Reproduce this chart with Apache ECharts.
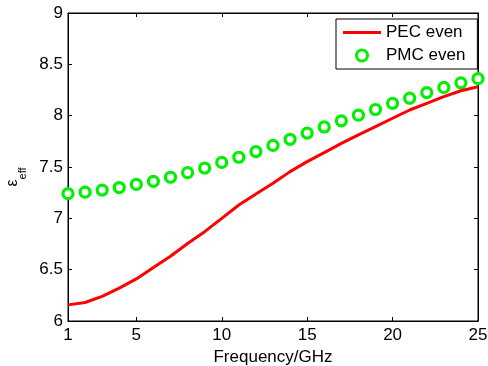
<!DOCTYPE html>
<html>
<head>
<meta charset="utf-8">
<script src="https://cdn.jsdelivr.net/npm/echarts@6/dist/echarts.min.js"></script>
<style>
html,body{margin:0;padding:0;background:#fff;}
#chart{width:488px;height:366px;}
</style>
</head>
<body>
<div id="chart"></div>
<script>
var freq = [1,2,3,4,5,6,7,8,9,10,11,12,13,14,15,16,17,18,19,20,21,22,23,24,25];
var pecEven = [6.157,6.18,6.24,6.32,6.41,6.52,6.63,6.755,6.87,7.0,7.13,7.238,7.342,7.455,7.552,7.64,7.73,7.812,7.893,7.975,8.055,8.12,8.185,8.243,8.282];
var pmcEven = [7.24,7.255,7.275,7.30,7.33,7.36,7.40,7.445,7.49,7.545,7.595,7.65,7.71,7.77,7.83,7.89,7.95,8.005,8.06,8.12,8.17,8.225,8.275,8.32,8.36];
var xTicks = [1,5,10,15,20,25];
var seriesNames = ['PEC even','PMC even'];

var font = 'Liberation Sans, Arial, sans-serif';
var green = '#00f000';
var chart = echarts.init(document.getElementById('chart'));

function pairs(xs, ys){ return xs.map(function(x,i){ return [x, ys[i]]; }); }

var xBase = {
  type:'value', min:1, max:25,
  axisLine:{show:true, lineStyle:{color:'#000', width:1}},
  axisTick:{show:true, inside:true, length:4, customValues:xTicks, lineStyle:{color:'#000'}},
  splitLine:{show:false}
};
var yBase = {
  type:'value', min:6, max:9, interval:0.5,
  axisLine:{show:true, lineStyle:{color:'#000', width:1}},
  axisTick:{show:true, inside:true, length:4, lineStyle:{color:'#000'}},
  splitLine:{show:false}
};

chart.setOption({
  backgroundColor:'#fff',
  animation:false,
  grid:{left:68, right:10, top:13, bottom:45, show:true, borderColor:'#000', borderWidth:1, containLabel:false, outerBoundsMode:'none'},
  xAxis:[
    Object.assign({}, xBase, {
      position:'bottom',
      axisLabel:{customValues:xTicks, color:'#000', fontFamily:font, fontSize:17, margin:6},
      name:'Frequency/GHz', nameLocation:'middle', nameGap:25,
      nameTextStyle:{color:'#000', fontFamily:font, fontSize:17}
    }),
    Object.assign({}, xBase, {position:'top', axisLabel:{show:false}})
  ],
  yAxis:[
    Object.assign({}, yBase, {
      position:'left',
      axisLabel:{color:'#000', fontFamily:font, fontSize:17, margin:5},
      name:'{e|ε}{s|eff}', nameLocation:'middle', nameRotate:90, nameGap:38,
      nameTextStyle:{
        color:'#000', fontFamily:font, padding:[0,20,0,0],
        rich:{
          e:{fontSize:16, lineHeight:24, verticalAlign:'top', fontFamily:font, color:'#000'},
          s:{fontSize:11, lineHeight:24, verticalAlign:'bottom', fontFamily:font, color:'#000'}
        }
      }
    }),
    Object.assign({}, yBase, {position:'right', axisLabel:{show:false}})
  ],
  legend:{
    orient:'vertical', left:336, top:19,
    padding:[5,12,5,7], itemGap:6, itemWidth:38, itemHeight:11,
    backgroundColor:'#fff', borderColor:'#000', borderWidth:1, borderRadius:0,
    textStyle:{color:'#000', fontFamily:font, fontSize:17},
    data:[
      {name:seriesNames[0], icon:'path://M0,0L38,0L38,3L0,3Z', itemStyle:{color:'#ff0000', borderWidth:0}},
      {name:seriesNames[1], icon:'circle', itemStyle:{color:'#fff', borderColor:green, borderWidth:3}}
    ]
  },
  series:[
    {
      name:seriesNames[0], type:'line', data:pairs(freq, pecEven),
      symbol:'none', smooth:false,
      lineStyle:{color:'#ff0000', width:3}, itemStyle:{color:'#ff0000'}
    },
    {
      name:seriesNames[1], type:'scatter', data:pairs(freq, pmcEven),
      symbol:'circle', symbolSize:10,
      itemStyle:{color:'#fff', borderColor:green, borderWidth:3.2, opacity:1}
    }
  ]
});
</script>
</body>
</html>
